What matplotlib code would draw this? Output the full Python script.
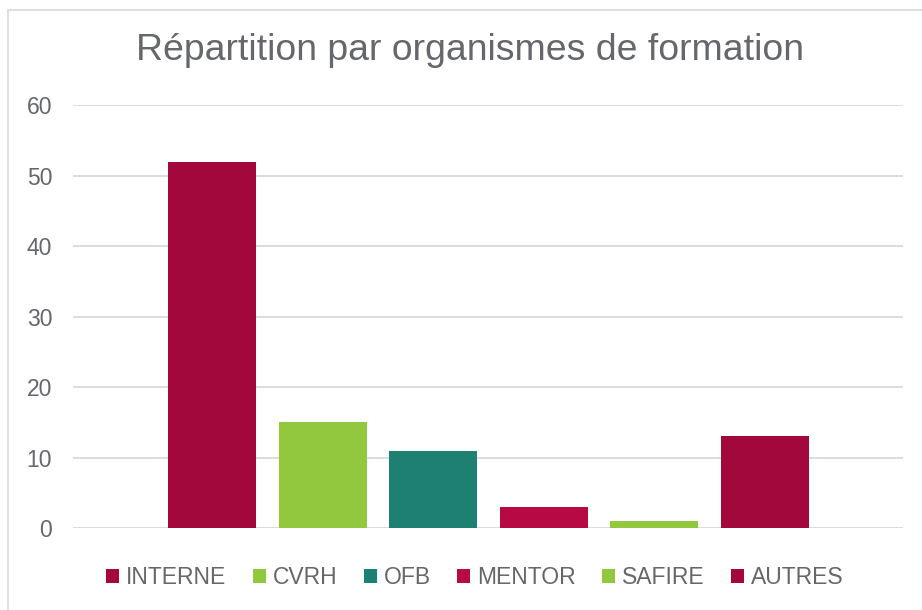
import matplotlib
matplotlib.use("Agg")
import matplotlib.pyplot as plt
from matplotlib.patches import Rectangle, Patch

categories = ["INTERNE", "CVRH", "OFB", "MENTOR", "SAFIRE", "AUTRES"]
values = [52, 15, 11, 3, 1, 13]
colors = ["#A3083D", "#92C83E", "#1E7F73", "#B70A45", "#92C83E", "#A3083D"]
yticks = [0, 10, 20, 30, 40, 50, 60]
title = "Répartition par organismes de formation"

plt.rcParams['font.family'] = ['Liberation Sans', 'DejaVu Sans']
txt = "#64676B"

W, H = 922, 610
fig = plt.figure(figsize=(W/100, H/100), dpi=100)
fig.patch.set_facecolor("white")

# outer chart frame (clipped at right/bottom)
fig.patches.append(Rectangle((8/W, -0.1), 1.2, 1 - 10/H + 0.1, transform=fig.transFigure,
                             fill=False, edgecolor="#D9D9D9", linewidth=1.2))

ax = fig.add_axes([73/W, 1 - 528/H, 830/W, (528 - 105.3)/H])
x = list(range(len(categories)))
ax.bar(x, values, width=0.796, color=colors, zorder=3)
ax.set_xlim(-1.257, 6.25)
ax.set_ylim(0, 60)
ax.set_yticks(yticks)
ax.set_xticks([])
ax.grid(axis="y", color="#D9D9D9", linewidth=1.3, zorder=0)
for s in ax.spines.values():
    s.set_visible(False)
ax.tick_params(axis="y", length=0, labelsize=16.5, labelcolor=txt, pad=15)
for lab in ax.get_yticklabels():
    lab.set_horizontalalignment("right")

fig.text(470/W, 1 - 51/H, title, ha="center", va="center", fontsize=26.9, color=txt)

handles = [Patch(facecolor=c, edgecolor="none") for c in colors]
leg = fig.legend(handles, categories, loc="center", bbox_to_anchor=(475/W, 1 - 578/H),
                 ncol=6, frameon=False, fontsize=16.5, handlelength=0.57, handleheight=0.57,
                 handletextpad=0.3, columnspacing=1.15, labelcolor=txt)

fig.savefig("out.png", dpi=100)
